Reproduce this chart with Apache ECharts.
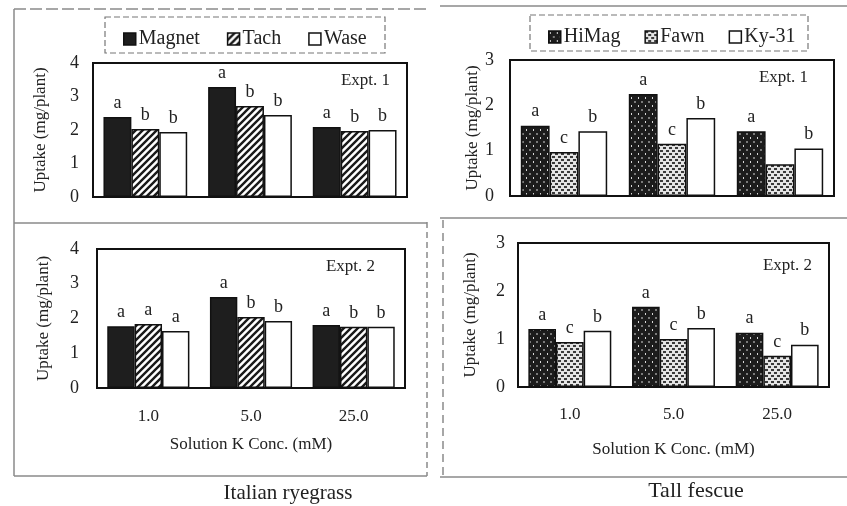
<!DOCTYPE html>
<html>
<head>
<meta charset="utf-8">
<script src="https://cdn.jsdelivr.net/npm/echarts/dist/echarts.min.js"></script>
<style>
html,body{margin:0;padding:0;background:#fff;}
#chart{width:847px;height:506px;}
</style>
</head>
<body>
<div id="chart"></div>
<script>
// ---------- data ----------
const categories = ['1.0', '5.0', '25.0'];
const ryeNames = ['Magnet', 'Tach', 'Wase'];
const fescueNames = ['HiMag', 'Fawn', 'Ky-31'];

// Italian ryegrass, Expt. 1
const rye1Magnet = [2.39, 3.28, 2.09];
const rye1Tach   = [2.03, 2.72, 1.97];
const rye1Wase   = [1.94, 2.45, 2.00];
const rye1MagnetLetters = ['a', 'a', 'a'];
const rye1TachLetters   = ['b', 'b', 'b'];
const rye1WaseLetters   = ['b', 'b', 'b'];

// Italian ryegrass, Expt. 2
const rye2Magnet = [1.78, 2.62, 1.81];
const rye2Tach   = [1.84, 2.04, 1.76];
const rye2Wase   = [1.64, 1.93, 1.76];
const rye2MagnetLetters = ['a', 'a', 'a'];
const rye2TachLetters   = ['a', 'b', 'b'];
const rye2WaseLetters   = ['a', 'b', 'b'];

// Tall fescue, Expt. 1
const fes1HiMag = [1.55, 2.25, 1.43];
const fes1Fawn  = [0.97, 1.15, 0.70];
const fes1Ky31  = [1.43, 1.72, 1.05];
const fes1HiMagLetters = ['a', 'a', 'a'];
const fes1FawnLetters  = ['c', 'c', ''];
const fes1Ky31Letters  = ['b', 'b', 'b'];

// Tall fescue, Expt. 2
const fes2HiMag = [1.21, 1.67, 1.13];
const fes2Fawn  = [0.94, 1.00, 0.65];
const fes2Ky31  = [1.17, 1.23, 0.88];
const fes2HiMagLetters = ['a', 'a', 'a'];
const fes2FawnLetters  = ['c', 'c', 'c'];
const fes2Ky31Letters  = ['b', 'b', 'b'];

const ryeTicks = [0, 1, 2, 3, 4];
const fescueTicks = [0, 1, 2, 3];

// ---------- fill patterns ----------
function makeCanvas(w, h) {
  const c = document.createElement('canvas');
  c.width = w; c.height = h;
  return c;
}
function hatchPattern() {
  const s = 7, c = makeCanvas(s, s), g = c.getContext('2d');
  g.fillStyle = '#fff'; g.fillRect(0, 0, s, s);
  g.strokeStyle = '#1a1a1a'; g.lineWidth = 2.4;
  g.beginPath();
  g.moveTo(-2, s + 2); g.lineTo(s + 2, -2);
  g.moveTo(-2, 2); g.lineTo(2, -2);
  g.moveTo(s - 2, s + 2); g.lineTo(s + 2, s - 2);
  g.stroke();
  return { image: c, repeat: 'repeat' };
}
function darkDotPattern() {
  const w = 7, h = 8, c = makeCanvas(w, h), g = c.getContext('2d');
  g.fillStyle = '#1c1c1c'; g.fillRect(0, 0, w, h);
  g.fillStyle = '#d8d8d8';
  g.fillRect(1, 1, 1, 2);
  g.fillRect(4.5, 5, 1, 2);
  return { image: c, repeat: 'repeat' };
}
function lightDotPattern() {
  const w = 6, h = 6, c = makeCanvas(w, h), g = c.getContext('2d');
  g.fillStyle = '#e4e4e4'; g.fillRect(0, 0, w, h);
  g.fillStyle = '#3a3a3a';
  g.fillRect(0, 0, 3, 2);
  g.fillRect(3, 3, 3, 2);
  return { image: c, repeat: 'repeat' };
}
const solidDark = '#1e1e1e';
const hatch = hatchPattern();
const darkDots = darkDotPattern();
const lightDots = lightDotPattern();

const FONT = '"Liberation Serif", "DejaVu Serif", serif';
const TXT = '#222';

// ---------- layout ----------
const grids = [
  { left: 93,  top: 63,  width: 314, height: 134 },
  { left: 510, top: 60,  width: 324, height: 136 },
  { left: 97,  top: 249, width: 308, height: 139 },
  { left: 518, top: 243, width: 311, height: 144 }
].map(g => Object.assign({ show: true, borderColor: '#111', borderWidth: 2, backgroundColor: 'transparent' }, g));

const xLabelMargins = [0, 0, 20, 19];
const xNameGaps = [0, 0, 48, 54];
const xAxes = grids.map((g, i) => ({
  type: 'category', gridIndex: i, data: categories,
  axisLine: { show: true, lineStyle: { color: '#111', width: 2 } },
  axisTick: { show: false },
  axisLabel: { show: i >= 2, fontFamily: FONT, fontSize: 17, color: TXT, margin: xLabelMargins[i] },
  name: i >= 2 ? 'Solution K Conc. (mM)' : '',
  nameLocation: 'middle', nameGap: xNameGaps[i],
  nameTextStyle: { fontFamily: FONT, fontSize: 17, color: TXT }
}));

const yMax = [ryeTicks[ryeTicks.length - 1], fescueTicks[fescueTicks.length - 1],
              ryeTicks[ryeTicks.length - 1], fescueTicks[fescueTicks.length - 1]];
const yLabelMargins = [14, 16, 18, 13];
const yNameGaps = [44, 29, 45, 39];
const yAxes = grids.map((g, i) => ({
  type: 'value', gridIndex: i, min: 0, max: yMax[i], interval: 1,
  axisLine: { show: true, lineStyle: { color: '#111', width: 2 } },
  axisTick: { show: false },
  splitLine: { show: false },
  axisLabel: { fontFamily: FONT, fontSize: 18, color: TXT, margin: yLabelMargins[i] },
  name: 'Uptake (mg/plant)', nameLocation: 'middle', nameGap: yNameGaps[i],
  nameTextStyle: { fontFamily: FONT, fontSize: 17, color: TXT }
}));

function barSeries(name, data, letters, fill, idx) {
  return {
    type: 'bar', name: name, data: data,
    xAxisIndex: idx, yAxisIndex: idx,
    barGap: '0%', barCategoryGap: '20%',
    itemStyle: { color: fill, borderColor: '#111', borderWidth: 1.5 },
    label: {
      show: true, position: 'top', distance: 5,
      fontFamily: FONT, fontSize: 18, color: TXT,
      formatter: p => letters[p.dataIndex]
    },
    emphasis: { disabled: true },
    animation: false
  };
}

const series = [
  barSeries(ryeNames[0], rye1Magnet, rye1MagnetLetters, solidDark, 0),
  barSeries(ryeNames[1], rye1Tach, rye1TachLetters, hatch, 0),
  barSeries(ryeNames[2], rye1Wase, rye1WaseLetters, '#fff', 0),
  barSeries(fescueNames[0], fes1HiMag, fes1HiMagLetters, darkDots, 1),
  barSeries(fescueNames[1], fes1Fawn, fes1FawnLetters, lightDots, 1),
  barSeries(fescueNames[2], fes1Ky31, fes1Ky31Letters, '#fff', 1),
  barSeries(ryeNames[0], rye2Magnet, rye2MagnetLetters, solidDark, 2),
  barSeries(ryeNames[1], rye2Tach, rye2TachLetters, hatch, 2),
  barSeries(ryeNames[2], rye2Wase, rye2WaseLetters, '#fff', 2),
  barSeries(fescueNames[0], fes2HiMag, fes2HiMagLetters, darkDots, 3),
  barSeries(fescueNames[1], fes2Fawn, fes2FawnLetters, lightDots, 3),
  barSeries(fescueNames[2], fes2Ky31, fes2Ky31Letters, '#fff', 3)
];

const legendCommon = {
  orient: 'horizontal', icon: 'rect', itemWidth: 12, itemHeight: 12,
  selectedMode: false,
  itemStyle: { borderColor: '#111', borderWidth: 1.5 },
  textStyle: { fontFamily: FONT, fontSize: 20, color: TXT, padding: [0, 0, 0, -2] }
};
const legends = [
  Object.assign({}, legendCommon, { data: ryeNames, left: 118, top: 24, itemGap: 27 }),
  Object.assign({}, legendCommon, { data: fescueNames, left: 543, top: 22, itemGap: 24 })
];

function line(x1, y1, x2, y2, dash) {
  return { type: 'line', shape: { x1, y1, x2, y2 }, silent: true,
           style: { stroke: '#8a8a8a', lineWidth: 1.5, lineDash: dash || null } };
}
function text(str, x, y, size, align, weight) {
  return { type: 'text', x: x, y: y, silent: true,
           style: { text: str, fontFamily: FONT, fontSize: size, fill: TXT,
                    textAlign: align || 'center', textVerticalAlign: 'middle', fontWeight: weight || 'normal' } };
}

const graphics = [
  // panel frames (left)
  line(14, 9, 430, 9, [12, 4]),
  line(14, 9, 14, 476),
  line(14, 223, 427, 223),
  line(427, 222, 427, 476, [6, 4]),
  line(14, 476, 427, 476),
  // panel frames (right)
  line(440, 6, 847, 6),
  line(440, 218, 847, 218),
  line(443, 220, 443, 478, [8, 5]),
  line(440, 477, 847, 477),
  // legend boxes
  { type: 'rect', shape: { x: 105, y: 17, width: 280, height: 36 }, silent: true,
    style: { fill: 'none', stroke: '#777', lineWidth: 1.2, lineDash: [6, 3] } },
  { type: 'rect', shape: { x: 530, y: 15, width: 278, height: 36 }, silent: true,
    style: { fill: 'none', stroke: '#777', lineWidth: 1.2, lineDash: [6, 3] } },
  // experiment tags
  text('Expt. 1', 390, 81, 17, 'right'),
  text('Expt. 1', 808, 78, 17, 'right'),
  text('Expt. 2', 375, 267, 17, 'right'),
  text('Expt. 2', 812, 266, 17, 'right'),
  // species names
  text('Italian ryegrass', 288, 493, 21),
  text('Tall fescue', 696, 491, 22)
];

const chart = echarts.init(document.getElementById('chart'), null, { renderer: 'canvas' });
chart.setOption({
  animation: false,
  backgroundColor: '#fff',
  grid: grids,
  xAxis: xAxes,
  yAxis: yAxes,
  legend: legends,
  series: series,
  graphic: graphics
});
</script>
</body>
</html>
